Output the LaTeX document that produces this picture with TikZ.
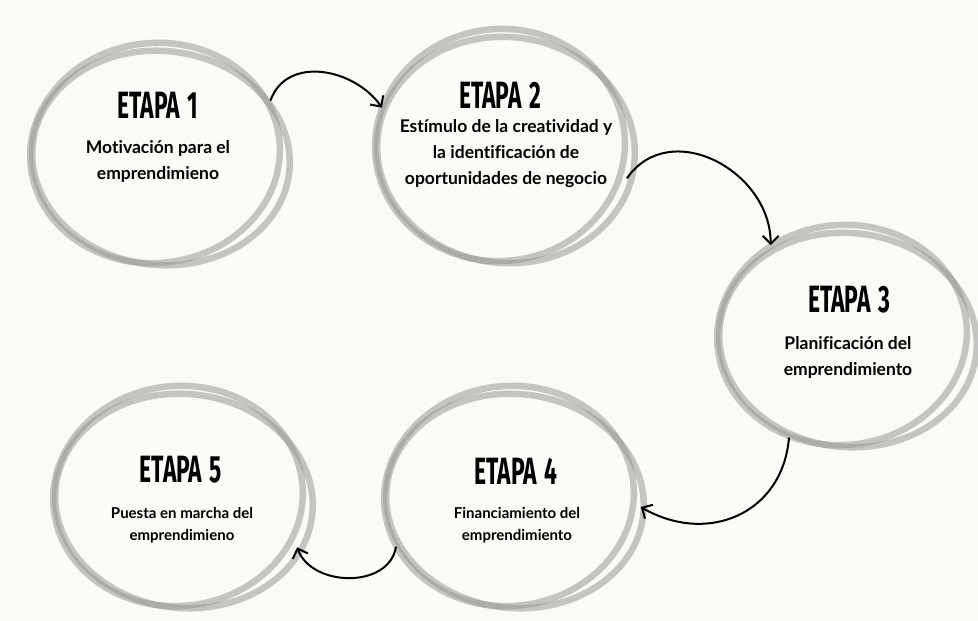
\documentclass[tikz,border=0pt]{standalone}
\usepackage{fontspec}
\setmainfont[Ligatures=NoCommon]{Lato}
\newfontfamily\titlefont[FakeStretch=0.6]{Fira Sans}
\usetikzlibrary{shapes.geometric,arrows.meta}

\definecolor{paper}{HTML}{FCFAF6}
\definecolor{ringgray}{HTML}{979797}

\newcommand{\etapa}[1]{ETAPA\hspace{0.2em}#1}

\tikzset{
  stage/.style={ellipse, minimum width=258pt, minimum height=224pt, inner sep=0pt},
  ring/.style={draw=ringgray, line width=6.5pt, opacity=0.54},
  title/.style={font=\titlefont\bfseries\fontsize{38}{38}\selectfont},
  body/.style={align=center, font=\bfseries\fontsize{17.5}{26}\selectfont},
  small body/.style={align=center, font=\bfseries\fontsize{15}{22}\selectfont},
  flow/.style={-{Straight Barb[length=8pt,width=16pt]}, line width=2pt, line cap=round},
}

\begin{document}
\begin{tikzpicture}[x=1pt,y=1pt]

  \fill[paper] (0,0) rectangle (978,-621);
  \useasboundingbox (0,0) rectangle (978,-621);

  % the five stages
  \node[stage] (e1) at (158,-155) {};
  \node[stage] (e2) at (503,-147) {};
  \node[stage] (e3) at (845,-337) {};
  \node[stage] (e4) at (512,-498) {};
  \node[stage] (e5) at (181,-498) {};

  % hand drawn rings, two loops each
  \foreach \s/\ry in {e1/110, e2/116, e3/110, e4/110, e5/110} {
    \draw[ring] ([shift={(-3,2)}]\s.center) ellipse [x radius=125, y radius=\ry, rotate=6];
    \draw[ring] ([shift={(3,-3)}]\s.center) ellipse [x radius=129, y radius=\ry-3, rotate=-6];
  }

  \node[title] (t1) at (158,-105) {\etapa{1}};
  \node[body] (d1) at (158,-161) {Motivación para el\\emprendimieno};

  \node[title] (t2) at (500,-95) {\etapa{2}};
  \node[body] (d2) at (506,-154) {Estímulo de la creatividad y\\la identificación de\\oportunidades de negocio};

  \node[title] (t3) at (849,-300) {\etapa{3}};
  \node[body] (d3) at (848,-357) {Planificación del\\emprendimiento};

  \node[title] (t4) at (516,-471) {\etapa{4}};
  \node[small body] (d4) at (517,-525) {Financiamiento del\\emprendimiento};

  \node[title] (t5) at (181,-470) {\etapa{5}};
  \node[small body] (d5) at (182,-525) {Puesta en marcha del\\emprendimieno};

  % arrows between stages
  \draw[flow] (e1.26) to[out=70,in=125,looseness=1.1] (e2.162);
  \draw[flow] (e2.-14) to[out=55,in=90,looseness=1.2] (e3.129);
  \draw[flow] (e3.-119) to[out=-95,in=-30,looseness=1.2] (e4.-4);
  \draw[flow] (e4.-157) to[out=-100,in=-70,looseness=1.1] (e5.-23);

\end{tikzpicture}
\end{document}
